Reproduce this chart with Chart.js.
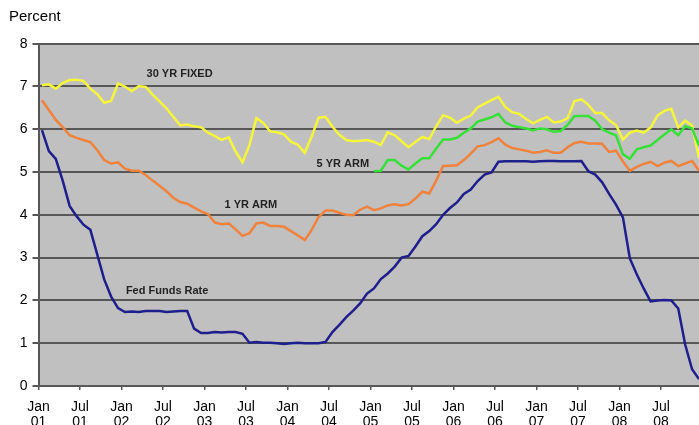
<!DOCTYPE html>
<html>
<head>
<meta charset="utf-8">
<script src="https://cdn.jsdelivr.net/npm/chart.js@4.4.1/dist/chart.umd.min.js"></script>
<style>
  html, body { margin: 0; padding: 0; background: #fff; overflow: hidden; }
  #wrap { width: 699px; height: 425px; overflow: hidden; }
</style>
</head>
<body>
<div id="wrap"><canvas id="rates" width="699" height="440"></canvas></div>
<script>
// --- monthly rates, Jan 2001 .. Dec 2008 (percent) ---
const fedFunds = [
  5.98, 5.49, 5.31, 4.80, 4.21, 3.97, 3.77, 3.65, 3.07, 2.49, 2.09, 1.82,
  1.73, 1.74, 1.73, 1.75, 1.75, 1.75, 1.73, 1.74, 1.75, 1.75, 1.34, 1.24,
  1.24, 1.26, 1.25, 1.26, 1.26, 1.22, 1.01, 1.03, 1.01, 1.01, 1.00, 0.98,
  1.00, 1.01, 1.00, 1.00, 1.00, 1.03, 1.26, 1.43, 1.61, 1.76, 1.93, 2.16,
  2.28, 2.50, 2.63, 2.79, 3.00, 3.04, 3.26, 3.50, 3.62, 3.78, 4.00, 4.16,
  4.29, 4.49, 4.59, 4.79, 4.94, 4.99, 5.24, 5.25, 5.25, 5.25, 5.25, 5.24,
  5.25, 5.26, 5.26, 5.25, 5.25, 5.25, 5.26, 5.02, 4.94, 4.76, 4.49, 4.24,
  3.94, 2.98, 2.61, 2.28, 1.98, 2.00, 2.01, 2.00, 1.81, 0.97, 0.39, 0.16
];
const arm1yr = [
  6.68, 6.45, 6.22, 6.05, 5.86, 5.80, 5.75, 5.70, 5.51, 5.28, 5.20, 5.23,
  5.08, 5.03, 5.03, 4.93, 4.80, 4.68, 4.55, 4.40, 4.30, 4.26, 4.17, 4.08,
  4.02, 3.82, 3.78, 3.80, 3.66, 3.51, 3.57, 3.80, 3.82, 3.74, 3.74, 3.72,
  3.62, 3.52, 3.41, 3.65, 3.95, 4.10, 4.10, 4.05, 4.00, 3.99, 4.12, 4.19,
  4.11, 4.15, 4.22, 4.25, 4.22, 4.25, 4.38, 4.54, 4.50, 4.80, 5.14, 5.15,
  5.16, 5.28, 5.43, 5.60, 5.63, 5.70, 5.79, 5.64, 5.56, 5.53, 5.50, 5.45,
  5.47, 5.51, 5.45, 5.45, 5.58, 5.68, 5.71, 5.67, 5.67, 5.66, 5.47, 5.50,
  5.25, 5.03, 5.12, 5.19, 5.24, 5.14, 5.22, 5.26, 5.14, 5.20, 5.26, 5.03
];
const fixed30yr = [
  7.03, 7.05, 6.95, 7.08, 7.15, 7.16, 7.13, 6.95, 6.82, 6.62, 6.66, 7.07,
  7.00, 6.89, 7.01, 6.99, 6.81, 6.65, 6.49, 6.29, 6.09, 6.11, 6.07, 6.05,
  5.92, 5.84, 5.75, 5.81, 5.48, 5.23, 5.63, 6.26, 6.15, 5.95, 5.93, 5.88,
  5.71, 5.64, 5.45, 5.83, 6.27, 6.29, 6.06, 5.87, 5.75, 5.72, 5.73, 5.75,
  5.71, 5.63, 5.93, 5.86, 5.72, 5.58, 5.70, 5.82, 5.77, 6.07, 6.33, 6.27,
  6.15, 6.25, 6.32, 6.51, 6.60, 6.68, 6.76, 6.52, 6.40, 6.36, 6.24, 6.14,
  6.22, 6.29, 6.16, 6.18, 6.26, 6.66, 6.70, 6.57, 6.38, 6.38, 6.21, 6.10,
  5.76, 5.92, 5.97, 5.92, 6.04, 6.32, 6.43, 6.48, 6.04, 6.20, 6.09, 5.33
];
// 5 yr ARM only starts Jan 2005 (month index 48)
const arm5yrStart = 48;
const arm5yr = [
  5.02, 5.03, 5.28, 5.28, 5.15, 5.06, 5.20, 5.32, 5.32, 5.55, 5.76, 5.76,
  5.80, 5.92, 6.02, 6.18, 6.23, 6.28, 6.36, 6.16, 6.08, 6.05, 6.02, 5.97,
  6.02, 6.00, 5.94, 5.96, 6.10, 6.31, 6.31, 6.31, 6.20, 6.00, 5.92, 5.86,
  5.42, 5.31, 5.53, 5.58, 5.62, 5.75, 5.88, 6.00, 5.86, 6.07, 6.02, 5.62
];

// x ticks every six months from Jan 01
const tickMonths = [0, 6, 12, 18, 24, 30, 36, 42, 48, 54, 60, 66, 72, 78, 84, 90];
const tickLabels = [
  ['Jan', '01'], ['Jul', '01'], ['Jan', '02'], ['Jul', '02'],
  ['Jan', '03'], ['Jul', '03'], ['Jan', '04'], ['Jul', '04'],
  ['Jan', '05'], ['Jul', '05'], ['Jan', '06'], ['Jul', '06'],
  ['Jan', '07'], ['Jul', '07'], ['Jan', '08'], ['Jul', '08']
];

// series names written inside the plot, anchored in data units
const seriesNotes = [
  { text: '30 YR FIXED', month: 20.4, value: 7.29 },
  { text: '5 YR ARM', month: 44.0, value: 5.19 },
  { text: '1 YR ARM', month: 30.7, value: 4.23 },
  { text: 'Fed Funds Rate', month: 18.6, value: 2.22 }
];

// monthly averages plotted at mid-month
function toPoints(values, start) {
  return values.map((v, i) => ({ x: start + i + 0.5, y: v }));
}

const plotBg = {
  id: 'plotBg',
  beforeDraw(chart) {
    const { ctx, chartArea: a } = chart;
    ctx.save();
    ctx.fillStyle = '#c0c0c0';
    ctx.fillRect(a.left, a.top, a.right - a.left, a.bottom - a.top);
    ctx.restore();
  }
};

const notes = {
  id: 'notes',
  afterDatasetsDraw(chart) {
    const { ctx, scales } = chart;
    ctx.save();
    ctx.font = 'bold 11px "Liberation Sans", Arial, sans-serif';
    ctx.fillStyle = '#222';
    ctx.textAlign = 'center';
    ctx.textBaseline = 'middle';
    seriesNotes.forEach(n => {
      ctx.fillText(n.text, scales.x.getPixelForValue(n.month), scales.y.getPixelForValue(n.value));
    });
    ctx.restore();
  }
};

const axisGray = '#575757';
const font = { family: '"Liberation Sans", Arial, sans-serif', size: 14 };

new Chart(document.getElementById('rates'), {
  type: 'line',
  data: {
    datasets: [
      { label: 'Fed Funds Rate', data: toPoints(fedFunds, 0), borderColor: '#1e1e8c' },
      { label: '1 YR ARM', data: toPoints(arm1yr, 0), borderColor: '#f0823c' },
      { label: '5 YR ARM', data: toPoints(arm5yr, arm5yrStart), borderColor: '#36e036' },
      { label: '30 YR FIXED', data: toPoints(fixed30yr, 0), borderColor: '#f5f53a' }
    ]
  },
  options: {
    responsive: false,
    animation: false,
    events: [],
    layout: { padding: { left: 9, right: 0, top: 0, bottom: 0 } },
    elements: {
      point: { radius: 0 },
      line: { borderWidth: 2.5, tension: 0, fill: false }
    },
    plugins: {
      legend: { display: false },
      tooltip: { enabled: false },
      title: {
        display: true,
        text: 'Percent',
        align: 'start',
        color: '#000',
        font: { family: font.family, size: 15, weight: 'normal' },
        padding: { top: 8, bottom: 17.7 }
      }
    },
    scales: {
      x: {
        type: 'linear',
        min: 0,
        max: 95.5,
        afterBuildTicks: axis => { axis.ticks = tickMonths.map(v => ({ value: v })); },
        afterFit: axis => { axis.height = 54; },
        ticks: {
          autoSkip: false,
          maxRotation: 0,
          color: '#000',
          font: { family: font.family, size: 14, lineHeight: 1.1 },
          padding: 9,
          callback: (v) => tickLabels[tickMonths.indexOf(v)]
        },
        grid: { drawOnChartArea: false, color: axisGray, lineWidth: 1.5, tickLength: 4 },
        border: { display: false }
      },
      y: {
        min: 0,
        max: 8,
        afterFit: axis => { axis.width = 29.5; },
        ticks: { stepSize: 1, color: '#000', font: font, padding: 5 },
        grid: { color: axisGray, lineWidth: 2, tickLength: 6 },
        border: { display: true, color: axisGray, width: 2 }
      }
    }
  },
  plugins: [plotBg, notes]
});
</script>
</body>
</html>
